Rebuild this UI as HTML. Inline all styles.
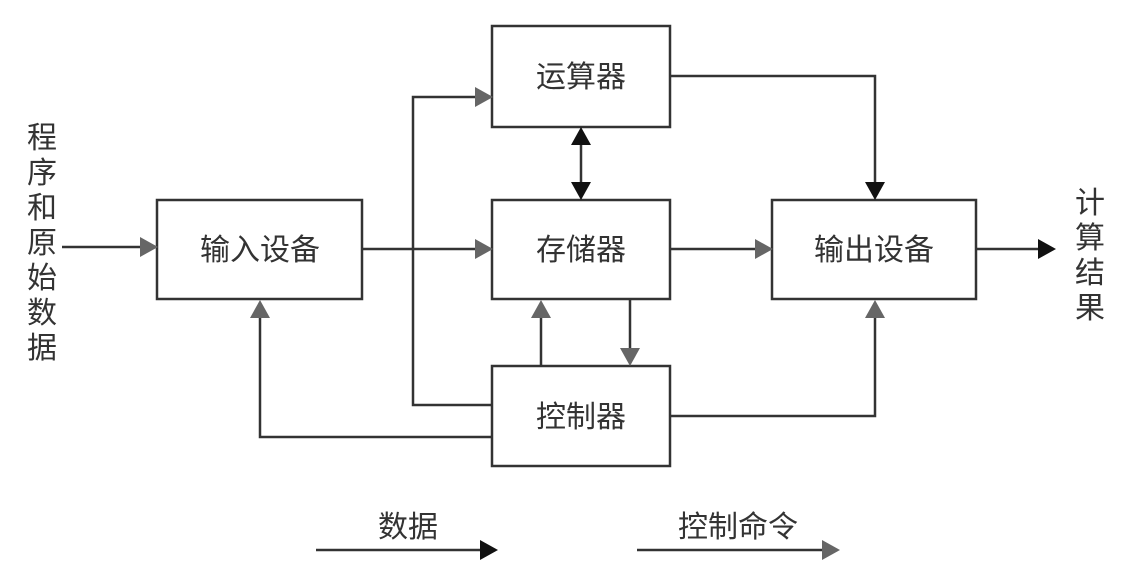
<!DOCTYPE html>
<html><head><meta charset="utf-8"><style>
body{margin:0;background:#fff;width:1129px;height:565px;overflow:hidden}
svg{display:block}
text{font-family:"Liberation Sans","Noto Sans CJK SC",sans-serif;fill:#333;font-size:30px}
</style></head><body>
<svg width="1129" height="565" viewBox="0 0 1129 565">
<defs>
<marker id="g" markerWidth="10" markerHeight="10" refX="9" refY="5" orient="auto" markerUnits="userSpaceOnUse"><path d="M0,0 L0,0"/></marker>
</defs>
<g fill="none" stroke="#333" stroke-width="2.5">
<rect x="492" y="26" width="178" height="101"/>
<rect x="157" y="200" width="205" height="99"/>
<rect x="492" y="200" width="178" height="99"/>
<rect x="772" y="200" width="204" height="99"/>
<rect x="492" y="366" width="178" height="100"/>
<!-- lines -->
<path d="M62,247 H140"/>
<path d="M362,249 H475"/>
<path d="M492,405 H413 V97 H475"/>
<path d="M492,437 H260 V318"/>
<path d="M541,366 V318"/>
<path d="M630,299 V348"/>
<path d="M581,145 V182"/>
<path d="M670,76 H875 V182"/>
<path d="M670,249 H755"/>
<path d="M670,416 H875 V318"/>
<path d="M976,249 H1038"/>
<path d="M316,550 H480"/>
<path d="M637,550 H822"/>
</g>
<g fill="#666">
<path d="M140,237 L158,247 L140,257Z"/>
<path d="M475,239 L493,249 L475,259Z"/>
<path d="M475,87 L493,97 L475,107Z"/>
<path d="M250,318 L260,300 L270,318Z"/>
<path d="M531,318 L541,300 L551,318Z"/>
<path d="M620,348 L630,366 L640,348Z"/>
<path d="M755,239 L773,249 L755,259Z"/>
<path d="M865,318 L875,300 L885,318Z"/>
<path d="M822,540 L840,550 L822,560Z"/>
</g>
<g fill="#111">
<path d="M571,145 L581,127 L591,145Z"/>
<path d="M571,182 L581,200 L591,182Z"/>
<path d="M865,182 L875,200 L885,182Z"/>
<path d="M1038,239 L1056,249 L1038,259Z"/>
<path d="M480,540 L498,550 L480,560Z"/>
</g>
<text x="581" y="87" text-anchor="middle">运算器</text>
<text x="260" y="260" text-anchor="middle">输入设备</text>
<text x="581" y="260" text-anchor="middle">存储器</text>
<text x="874" y="260" text-anchor="middle">输出设备</text>
<text x="581" y="427" text-anchor="middle">控制器</text>
<text x="408" y="537" text-anchor="middle">数据</text>
<text x="738" y="537" text-anchor="middle">控制命令</text>
<g font-size="32">
<text x="42" y="148" text-anchor="middle">程</text>
<text x="42" y="183" text-anchor="middle">序</text>
<text x="42" y="218" text-anchor="middle">和</text>
<text x="42" y="253" text-anchor="middle">原</text>
<text x="42" y="288" text-anchor="middle">始</text>
<text x="42" y="323" text-anchor="middle">数</text>
<text x="42" y="358" text-anchor="middle">据</text>
<text x="1090" y="213" text-anchor="middle">计</text>
<text x="1090" y="248" text-anchor="middle">算</text>
<text x="1090" y="283" text-anchor="middle">结</text>
<text x="1090" y="318" text-anchor="middle">果</text>
</g>
</svg>
</body></html>
